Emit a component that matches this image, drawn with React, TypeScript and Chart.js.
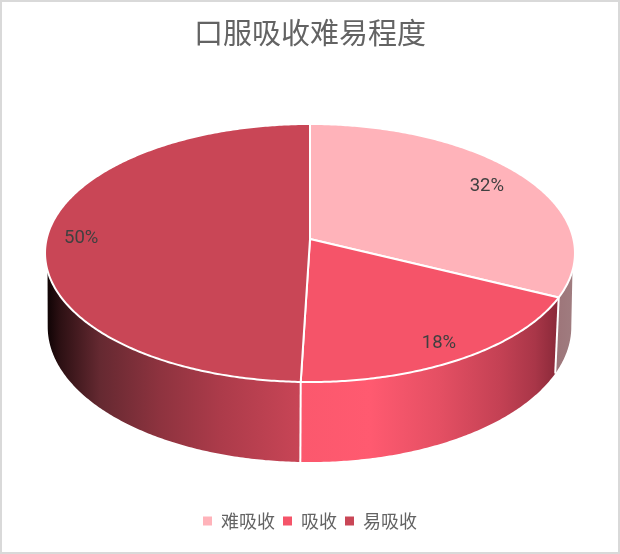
import React, { useEffect, useRef } from "react";
import { Chart, registerables } from "chart.js";

Chart.register(...registerables);

const chartTitle = "口服吸收难易程度";
const categories = ["难吸收", "吸收", "易吸收"];
const shareValues = [32.2, 18.3, 49.5];
const sliceColors = ["#FFB3BA", "#F55469", "#C94656"];

// Perspective of the disc: hub, half-axes and foreshortening.
const HUB_X = 310;
const HUB_Y = 239;
const AX = 263.4;
const BY = 127.5;
const PERSP = 0.1085;
// Lower rim relative to the top rim.
const RIM_SX = 0.988;
const RIM_SY = 1.047;
const RIM_X = 309.5;
const RIM_Y = 312.3;
const LABEL_RADII = [0.83, 0.87, 0.87];

function top(angle: number, r = 1) {
  const X = Math.cos(angle) * r;
  const Y = Math.sin(angle) * r;
  const w = 1 - PERSP * Y;
  return { x: HUB_X + (AX * X) / w, y: HUB_Y + (BY * Y) / w };
}
function rim(angle: number) {
  const p = top(angle);
  return { x: RIM_X + RIM_SX * (p.x - HUB_X), y: RIM_Y + RIM_SY * (p.y - HUB_Y) };
}
function arcPts(fn: (a: number) => { x: number; y: number }, a0: number, a1: number) {
  const pts = [];
  const n = Math.max(2, Math.ceil(Math.abs(a1 - a0) / 0.01));
  for (let i = 0; i <= n; i++) pts.push(fn(a0 + ((a1 - a0) * i) / n));
  return pts;
}
function hex(ctx: CanvasRenderingContext2D, stops: [number, string][]) {
  const g = ctx.createLinearGradient(40, 0, 580, 0);
  stops.forEach(([x, c]) => g.addColorStop((x - 40) / 540, c));
  return g;
}

// Visible part of the wall.
const WALL_TOP_R = (14 * Math.PI) / 180;
const WALL_RIM_R = (6 * Math.PI) / 180;

const pie3d = {
  id: "pie3d",
  beforeDatasetDraw(chart: any) {
    const ctx: CanvasRenderingContext2D = chart.ctx;
    const arcs = chart.getDatasetMeta(0).data;
    const wallStops: [number, string][][] = [
      [[550, "#9C7277"], [575, "#A07D80"]],
      [[300, "#FB586D"], [370, "#FF5A70"], [440, "#E44F63"], [500, "#C44154"], [535, "#A93648"], [556, "#8C2A3A"]],
      [[46, "#0C0203"], [60, "#2C1013"], [100, "#652931"], [160, "#8E333F"], [220, "#AC3B4A"], [300, "#C84556"]],
    ];
    ctx.save();
    const lo = WALL_TOP_R;
    const hi = Math.PI - WALL_TOP_R;
    const loR = WALL_RIM_R;
    const hiR = Math.PI - WALL_RIM_R;
    arcs.forEach((arc: any, i: number) => {
      const a0 = Math.max(arc.startAngle, lo);
      const a1 = Math.min(arc.endAngle, hi);
      if (a1 <= a0) return;
      const r0 = arc.startAngle <= lo ? loR : a0;
      const r1 = arc.endAngle >= hi ? hiR : a1;
      const upper = arcPts(top, a0, a1);
      const lower = arcPts(rim, r1, r0);
      ctx.beginPath();
      [...upper, ...lower].forEach((p, k) => (k ? ctx.lineTo(p.x, p.y) : ctx.moveTo(p.x, p.y)));
      ctx.closePath();
      ctx.fillStyle = hex(ctx, wallStops[i]);
      ctx.fill();
    });
    ctx.strokeStyle = "#FFFFFF";
    ctx.lineWidth = 2;
    arcs.forEach((arc: any) => {
      const a = arc.endAngle;
      if (a > lo && a < hi) {
        const p = top(a);
        const q = rim(a);
        ctx.beginPath();
        ctx.moveTo(p.x, p.y);
        ctx.lineTo(q.x, q.y);
        ctx.stroke();
      }
    });
    arcs.forEach((arc: any, i: number) => {
      const pts = arcPts(top, arc.startAngle, arc.endAngle);
      ctx.beginPath();
      ctx.moveTo(HUB_X, HUB_Y);
      pts.forEach((p) => ctx.lineTo(p.x, p.y));
      ctx.closePath();
      ctx.fillStyle = sliceColors[i];
      ctx.fill();
      ctx.lineJoin = "round";
      ctx.strokeStyle = "#FFFFFF";
      ctx.lineWidth = 2;
      ctx.stroke();
    });
    ctx.fillStyle = "#404040";
    ctx.font = "18.5px Roboto, sans-serif";
    ctx.textAlign = "center";
    ctx.textBaseline = "middle";
    arcs.forEach((arc: any, i: number) => {
      const mid = (arc.startAngle + arc.endAngle) / 2;
      const p = top(mid, LABEL_RADII[i]);
      ctx.fillText(`${Math.round(shareValues[i])}%`, p.x, p.y + 1);
    });
    ctx.restore();
    return false;
  },
};

export default function App() {
  const ref = useRef<HTMLCanvasElement>(null);
  useEffect(() => {
    document.body.style.margin = "0";
    document.body.style.background = "#fff";
    const chart = new Chart(ref.current!, {
      type: "pie",
      data: {
        labels: categories,
        datasets: [
          { data: shareValues, backgroundColor: sliceColors, borderWidth: 0 },
        ],
      },
      options: {
        animation: false,
        responsive: false,
        devicePixelRatio: 1,
        layout: { padding: { top: 0, bottom: 14 } },
        plugins: {
          title: {
            display: true,
            text: chartTitle,
            color: "#636363",
            font: { family: '"Noto Sans CJK SC", Roboto', size: 29, weight: "normal" },
            padding: { top: 16, bottom: 10 },
          },
          legend: {
            position: "bottom",
            labels: {
              color: "#636363",
              font: { family: '"Noto Sans CJK SC", Roboto', size: 18, weight: "normal" },
              usePointStyle: true,
              pointStyle: "rect",
              boxWidth: 9,
              boxHeight: 9,
              padding: 8,
            },
          },
          tooltip: { enabled: false },
        },
      } as any,
      plugins: [pie3d as any],
    });
    return () => chart.destroy();
  }, []);
  return (
    <div style={{ position: "absolute", left: 0, top: 0, width: 620, height: 554, background: "#fff" }}>
      <canvas ref={ref} width={620} height={554} style={{ display: "block", width: 620, height: 554 }} />
      <div
        style={{
          position: "absolute",
          left: 0,
          top: 0,
          width: 620,
          height: 554,
          boxSizing: "border-box",
          border: "2px solid #D9D9D9",
          pointerEvents: "none",
        }}
      />
    </div>
  );
}
